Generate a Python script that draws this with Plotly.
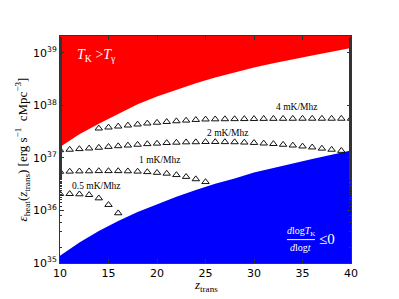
import math
import plotly.graph_objects as go

# ---------------- data ----------------
z_bound = [10, 12, 14, 16, 18, 20, 22, 24, 26, 28, 30, 32, 34, 36, 38, 40]
# boundary above which T_K > T_gamma  [erg s^-1 cMpc^-3]
eps_hot = [1.62e37, 2.82e37, 4.47e37, 6.76e37, 1.05e38, 1.48e38, 2.00e38, 2.63e38,
           3.39e38, 4.27e38, 5.25e38, 6.31e38, 7.59e38, 8.91e38, 1.05e39, 1.23e39]
# boundary below which dlogT_K/dlogt <= 0
eps_cool = [1.38e35, 2.46e35, 4.07e35, 6.31e35, 9.33e35, 1.32e36, 1.82e36, 2.45e36,
            3.24e36, 4.07e36, 5.25e36, 6.46e36, 7.94e36, 9.55e36, 1.15e37, 1.38e37]

z_4mk = list(range(14, 41))
eps_4mk = [v * 1e37 for v in [3.65, 3.81, 3.98, 4.16, 4.35, 4.54, 4.70, 4.86, 5.01, 5.16,
                              5.31, 5.42, 5.45, 5.48, 5.50, 5.52, 5.54, 5.56, 5.57, 5.58,
                              5.59, 5.60, 5.60, 5.60, 5.60, 5.60, 5.60]]
z_2mk = list(range(10, 40))
eps_2mk = [v * 1e37 for v in [1.41, 1.44, 1.48, 1.52, 1.57, 1.63, 1.68, 1.73, 1.79, 1.84,
                              1.88, 1.93, 1.96, 1.99, 2.00, 2.02, 2.02, 2.01, 2.00, 1.97,
                              1.94, 1.89, 1.85, 1.79, 1.73, 1.66, 1.59, 1.51, 1.44, 1.37]]
z_1mk = list(range(10, 26))
eps_1mk = [v * 1e36 for v in [5.47, 5.52, 5.57, 5.59, 5.64, 5.64, 5.64, 5.59, 5.52, 5.40,
                              5.23, 5.04, 4.74, 4.38, 3.95, 3.49]]
z_05mk = list(range(10, 17))
eps_05mk = [v * 1e36 for v in [2.07, 2.07, 2.04, 1.98, 1.71, 1.28, 0.889]]

series_labels = ["4 mK/Mhz", "2 mK/Mhz", "1 mK/Mhz", "0.5 mK/Mhz"]
label_z = [34.4, 27.3, 20.3, 13.8]
label_eps = [9.3e37, 2.95e37, 9.1e36, 2.95e36]

y_ticks = [1e35, 1e36, 1e37, 1e38, 1e39]
y_ticktext = ["10<sup>35</sup>", "10<sup>36</sup>", "10<sup>37</sup>", "10<sup>38</sup>", "10<sup>39</sup>"]
x_ticks = [10, 15, 20, 25, 30, 35, 40]

FAR_TOP = 1e41
FAR_BOTTOM = 1e30
SERIF = "Liberation Serif"
SANS = "DejaVu Sans"

fig = go.Figure()

# red region (T_K > T_gamma)
fig.add_trace(go.Scatter(x=z_bound, y=eps_hot, mode="lines", line=dict(width=0, color="red"),
                         showlegend=False, hoverinfo="skip"))
fig.add_trace(go.Scatter(x=z_bound, y=[FAR_TOP] * len(z_bound), mode="lines",
                         line=dict(width=0, color="red"), fill="tonexty", fillcolor="#ff0000",
                         showlegend=False, hoverinfo="skip"))
# blue region
fig.add_trace(go.Scatter(x=z_bound, y=[FAR_BOTTOM] * len(z_bound), mode="lines",
                         line=dict(width=0, color="blue"), showlegend=False, hoverinfo="skip"))
fig.add_trace(go.Scatter(x=z_bound, y=eps_cool, mode="lines", line=dict(width=0, color="blue"),
                         fill="tonexty", fillcolor="#0000ff", showlegend=False, hoverinfo="skip"))

for zs, es in [(z_4mk, eps_4mk), (z_2mk, eps_2mk), (z_1mk, eps_1mk), (z_05mk, eps_05mk)]:
    fig.add_trace(go.Scatter(x=zs, y=es, mode="markers",
                             marker=dict(symbol="triangle-up-open", size=6.5, color="#111111",
                                         line=dict(width=1, color="#111111")),
                             showlegend=False))

for txt, zx, ey in zip(series_labels, label_z, label_eps):
    fig.add_annotation(x=zx, y=math.log10(ey), text=txt, showarrow=False,
                       font=dict(family=SERIF, size=9.5, color="black"))

# region labels
fig.add_annotation(xref="paper", yref="paper", x=0.05, y=0.915, xanchor="left", yanchor="middle",
                   text="<i>T</i><sub>K</sub> ><i>T</i><sub>γ</sub>", showarrow=False,
                   font=dict(family=SERIF, size=14, color="white"))
fig.add_annotation(xref="paper", yref="paper", x=0.828, y=0.14, xanchor="center", yanchor="middle",
                   text="<i>d</i>log<i>T</i><sub>K</sub>", showarrow=False,
                   font=dict(family=SERIF, size=10, color="white"))
fig.add_annotation(xref="paper", yref="paper", x=0.828, y=0.068, xanchor="center", yanchor="middle",
                   text="<i>d</i>log<i>t</i>", showarrow=False,
                   font=dict(family=SERIF, size=10, color="white"))
fig.add_shape(type="line", xref="paper", yref="paper", x0=0.78, x1=0.876, y0=0.103, y1=0.103,
              line=dict(color="white", width=1))
fig.add_annotation(xref="paper", yref="paper", x=0.883, y=0.105, xanchor="left", yanchor="middle",
                   text="≤0", showarrow=False,
                   font=dict(family=SERIF, size=15, color="white"))

# axis titles
fig.add_annotation(xref="paper", yref="paper", x=0.5, y=-0.097, xanchor="center", yanchor="middle",
                   text="<i>z</i><sub>trans</sub>", showarrow=False,
                   font=dict(family=SERIF, size=13, color="black"))
fig.add_annotation(xref="paper", yref="paper", x=-0.131, y=0.5, xanchor="center", yanchor="middle",
                   textangle=-90,
                   text="<i>ε</i><sub>heat</sub>(<i>z</i><sub>trans</sub>) [erg s<sup>−1</sup>  cMpc<sup>−3</sup>]",
                   showarrow=False, font=dict(family=SERIF, size=13, color="black"))

# the page body adds an 8px offset, so margins are shifted to compensate
fig.update_layout(
    width=399, height=299,
    margin=dict(l=52, r=56, t=28, b=44),
    plot_bgcolor="white", paper_bgcolor="white",
    showlegend=False,
)
fig.update_xaxes(range=[10, 40], tickvals=x_ticks, ticks="inside", ticklen=4, automargin=False,
                 tickcolor="#333", showline=True, linecolor="#333", linewidth=1, mirror="ticks",
                 showgrid=False, zeroline=False, tickfont=dict(family=SANS, size=11, color="black"))
fig.update_yaxes(type="log", range=[35, 39.32], tickvals=y_ticks, ticktext=y_ticktext, automargin=False,
                 ticks="inside", ticklen=4, tickcolor="#333", showline=True, linecolor="#333",
                 linewidth=1, mirror="ticks", showgrid=False, zeroline=False,
                 minor=dict(ticks="inside", ticklen=2, tickcolor="#333", showgrid=False),
                 tickfont=dict(family=SANS, size=11, color="black"))

fig.write_html("out.html")
